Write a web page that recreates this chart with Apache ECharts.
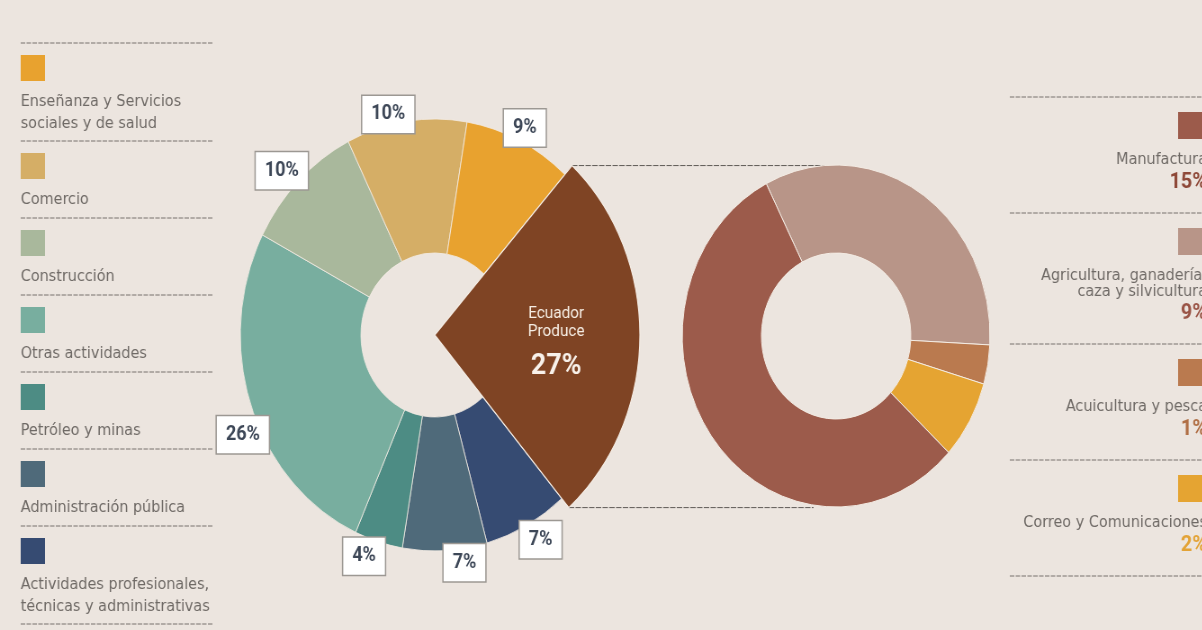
<!DOCTYPE html>
<html>
<head>
<meta charset="utf-8">
<script src="https://cdn.jsdelivr.net/npm/echarts@6/dist/echarts.min.js"></script>
<style>
  html, body { margin: 0; padding: 0; width: 1202px; height: 630px; overflow: hidden; background: #ECE5DF; }
  /* the infographic is drawn slightly condensed horizontally */
  #chart { width: 1336px; height: 630px; transform: scaleX(0.9); transform-origin: 0 0; }
</style>
</head>
<body>
<div id="chart"></div>
<script>
// Economic sectors (clockwise from the highlighted slice)
const sectorNames = [
  'Ecuador Produce',
  'Actividades profesionales,\ntécnicas y administrativas',
  'Administración pública',
  'Petróleo y minas',
  'Otras actividades',
  'Construcción',
  'Comercio',
  'Enseñanza y Servicios\nsociales y de salud'
];
const sectorShares = [27, 7, 7, 4, 26, 10, 10, 9];
const sectorColors = ['#7F4424', '#364B72', '#4F6A7A', '#4D8C84', '#78AE9F', '#A9B89C', '#D5AE66', '#E8A22F'];

// Breakdown of "Ecuador Produce" (clockwise from the top-left boundary)
const produceNames = ['Agricultura, ganadería,\ncaza y silvicultura', 'Acuicultura y pesca', 'Correo y Comunicaciones', 'Manufactura'];
const produceShares = [9, 1, 2, 15];
const produceColors = ['#B89588', '#BA7A4F', '#E5A432', '#9C5B4B'];
const produceLabelColors = ['#9A5446', '#B06F45', '#E3A336', '#8E4838'];
const produceLegendOrder = [3, 0, 1, 2];

const LEFT_CENTER = [483, 335];
const RING_RADIUS = [82, 216];
const HIGHLIGHT_RADIUS = 228;
const LEFT_START = 48;
const RIGHT_CENTER = [929, 336];
const RIGHT_RADIUS = [83, 171];
const RIGHT_START = 117;

// small nudges of the percentage tags away from the slice mid-angle
const tagOffsets = [[0, 0], [9, 2], [21, -2], [-12, 1], [4, 24], [-9, 0], [-18, 7], [0, 0]];

const FONT = 'Roboto, "Liberation Sans", sans-serif';
const LEGEND_FONT = '"DejaVu Sans", Roboto, sans-serif';
const TRANSPARENT = 'rgba(0,0,0,0)';
const EDGE = '#F4ECE4';

const chart = echarts.init(document.getElementById('chart'), null, { renderer: 'canvas' });

const ringData = sectorShares.map((v, i) => ({
  name: sectorNames[i],
  value: v,
  itemStyle: i === 0
    ? { color: TRANSPARENT, borderWidth: 0 }
    : { color: sectorColors[i], borderColor: EDGE, borderWidth: 0.8 }
}));

const highlightData = sectorShares.map((v, i) => ({
  name: sectorNames[i],
  value: v,
  itemStyle: i === 0
    ? { color: sectorColors[0], borderColor: EDGE, borderWidth: 1.2 }
    : { color: TRANSPARENT, borderWidth: 0 },
  label: { show: i === 0 }
}));

const tagData = sectorShares.map((v, i) => ({
  name: sectorNames[i],
  value: v,
  itemStyle: { color: TRANSPARENT, borderWidth: 0 },
  label: { show: i !== 0, offset: tagOffsets[i] }
}));

const produceData = produceShares.map((v, i) => ({
  name: produceNames[i],
  value: v,
  itemStyle: { color: produceColors[i], borderColor: EDGE, borderWidth: 1 }
}));

// Legend blocks and connectors
const graphics = [];
const RULE = { stroke: '#77716c', lineWidth: 1, lineDash: [5, 1.5] };

// left legend: sectors from the top of the ring down
const LEFT_LH = 22;
let y = 43;
for (let k = sectorNames.length - 1; k >= 1; k--) {
  const lines = sectorNames[k].split('\n').length;
  graphics.push({ type: 'line', shape: { x1: 23, y1: y, x2: 237, y2: y }, style: RULE, silent: true });
  graphics.push({ type: 'rect', shape: { x: 23, y: y + 12, width: 27, height: 26 }, style: { fill: sectorColors[k] }, silent: true });
  graphics.push({
    type: 'text', x: 23, y: y + 59 - LEFT_LH / 2,
    style: { text: sectorNames[k], fill: '#6f6a66', font: '16px ' + LEGEND_FONT, lineHeight: LEFT_LH, verticalAlign: 'top' },
    silent: true
  });
  y += 77 + (lines - 1) * 21;
}
graphics.push({ type: 'line', shape: { x1: 23, y1: y, x2: 237, y2: y }, style: RULE, silent: true });

// right legend: breakdown items, right aligned
const RIGHT_LH = 16;
let ry = 97;
const RIGHT_EDGE = 1341;
produceLegendOrder.forEach((idx) => {
  const lines = produceNames[idx].split('\n').length;
  graphics.push({ type: 'line', shape: { x1: 1122, y1: ry, x2: 1340, y2: ry }, style: RULE, silent: true });
  graphics.push({ type: 'rect', shape: { x: 1309, y: ry + 15, width: 28, height: 27 }, style: { fill: produceColors[idx] }, silent: true });
  const t1 = ry + 15 + 27 + 21;
  graphics.push({
    type: 'text', x: RIGHT_EDGE, y: t1 - RIGHT_LH / 2,
    style: { text: produceNames[idx], fill: '#6f6a66', font: '16px ' + LEGEND_FONT, lineHeight: RIGHT_LH, align: 'right', verticalAlign: 'top' },
    silent: true
  });
  const pctY = t1 + (lines - 1) * 15 + 22;
  graphics.push({
    type: 'text', x: RIGHT_EDGE, y: pctY,
    style: { text: produceShares[idx] + '%', fill: produceLabelColors[idx], font: 'bold 22px ' + FONT, align: 'right', verticalAlign: 'middle' },
    silent: true
  });
  ry = pctY + 31;
});
graphics.push({ type: 'line', shape: { x1: 1122, y1: ry, x2: 1340, y2: ry }, style: RULE, silent: true });

// connectors from the highlighted slice to the breakdown ring
const total = sectorShares.reduce((a, b) => a + b, 0);
const a0 = LEFT_START * Math.PI / 180;
const a1 = (LEFT_START - sectorShares[0] / total * 360) * Math.PI / 180;
const topPt = [LEFT_CENTER[0] + HIGHLIGHT_RADIUS * Math.cos(a0), LEFT_CENTER[1] - HIGHLIGHT_RADIUS * Math.sin(a0)];
const botPt = [LEFT_CENTER[0] + HIGHLIGHT_RADIUS * Math.cos(a1), LEFT_CENTER[1] - HIGHLIGHT_RADIUS * Math.sin(a1)];
const CONNECT = { stroke: '#5d5955', lineWidth: 1, lineDash: [6, 1.5] };
graphics.push({ type: 'line', z: 1, shape: { x1: topPt[0], y1: topPt[1], x2: RIGHT_CENTER[0] - 10, y2: topPt[1] }, style: CONNECT, silent: true });
graphics.push({ type: 'line', z: 1, shape: { x1: botPt[0], y1: botPt[1], x2: RIGHT_CENTER[0] - 25, y2: botPt[1] }, style: CONNECT, silent: true });

chart.setOption({
  backgroundColor: '#ECE5DF',
  animation: false,
  graphic: { elements: graphics },
  series: [
    {
      type: 'pie', name: 'sectores', z: 2, silent: true,
      center: LEFT_CENTER, radius: RING_RADIUS, startAngle: LEFT_START, clockwise: true,
      avoidLabelOverlap: false, label: { show: false }, labelLine: { show: false },
      emphasis: { disabled: true },
      data: ringData
    },
    {
      type: 'pie', name: 'Ecuador Produce', z: 3, silent: true,
      center: LEFT_CENTER, radius: [0, HIGHLIGHT_RADIUS], startAngle: LEFT_START, clockwise: true,
      avoidLabelOverlap: false, labelLine: { show: false },
      emphasis: { disabled: true },
      label: {
        position: 'inside', offset: [18, 12],
        formatter: (p) => '{n|Ecuador}\n{n|Produce}\n{p|' + p.value + '%}',
        rich: {
          n: { color: '#F6EDE3', fontFamily: FONT, fontSize: 17, lineHeight: 18, align: 'center' },
          p: { color: '#F8F1EA', fontFamily: FONT, fontSize: 30, fontWeight: 'bold', lineHeight: 50, align: 'center' }
        }
      },
      data: highlightData
    },
    {
      type: 'pie', name: 'etiquetas', z: 5, silent: true,
      center: LEFT_CENTER, radius: [219, 235], startAngle: LEFT_START, clockwise: true,
      avoidLabelOverlap: false, labelLine: { show: false },
      emphasis: { disabled: true },
      label: {
        position: 'inside', formatter: '{c}%',
        color: '#3D4757', fontFamily: FONT, fontSize: 20, fontWeight: 'bold',
        backgroundColor: '#FFFFFF', borderColor: '#9C9893', borderWidth: 1.5,
        padding: [9, 10, 8, 10]
      },
      data: tagData
    },
    {
      type: 'pie', name: 'Ecuador Produce detalle', z: 2, silent: true,
      center: RIGHT_CENTER, radius: RIGHT_RADIUS, startAngle: RIGHT_START, clockwise: true,
      label: { show: false }, labelLine: { show: false },
      emphasis: { disabled: true },
      data: produceData
    }
  ]
});
</script>
</body>
</html>
